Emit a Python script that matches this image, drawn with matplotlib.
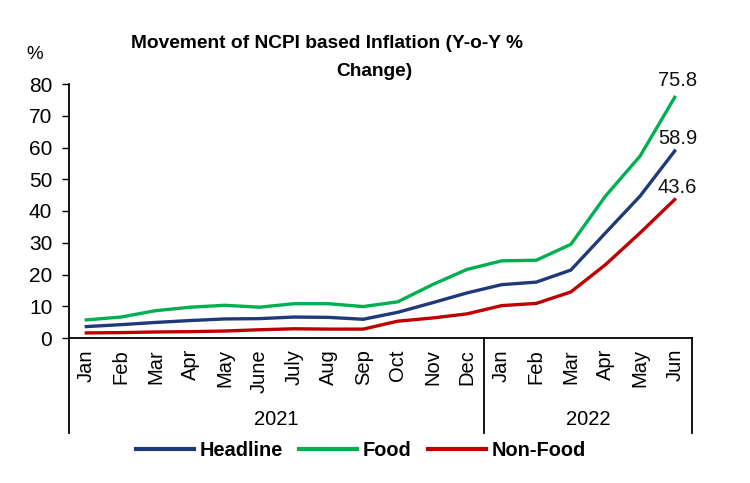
import numpy as np
from matplotlib import pyplot as plt
import matplotlib.transforms as mtrans

plt.rcParams['font.family'] = ['Liberation Sans', 'DejaVu Sans']

months = ["Jan", "Feb", "Mar", "Apr", "May", "June", "July", "Aug", "Sep", "Oct", "Nov", "Dec",
          "Jan", "Feb", "Mar", "Apr", "May", "Jun"]
years = ["2021", "2022"]
year_len = [12, 6]

headline = [3.6, 4.2, 4.9, 5.5, 6.0, 6.1, 6.6, 6.5, 5.9, 8.1, 11.1, 14.2,
            16.8, 17.6, 21.4, 33.1, 44.7, 58.9]
food = [5.7, 6.6, 8.6, 9.7, 10.3, 9.7, 10.8, 10.8, 9.9, 11.4, 16.8, 21.6,
        24.3, 24.5, 29.5, 44.7, 57.3, 75.8]
nonfood = [1.6, 1.7, 1.9, 2.0, 2.2, 2.6, 2.9, 2.8, 2.8, 5.3, 6.3, 7.6,
           10.2, 10.9, 14.5, 23.1, 33.1, 43.6]

c_head = "#1F3A78"
c_food = "#00B050"
c_non = "#C00000"

fig = plt.figure(figsize=(7.5, 4.83), dpi=100)
ax = fig.add_axes([69/750, 1-338/483, (692-69)/750, 254/483])

x = np.arange(len(months))
ax.plot(x, headline, color=c_head, lw=2.4, label="Headline")
ax.plot(x, food, color=c_food, lw=2.4, label="Food")
ax.plot(x, nonfood, color=c_non, lw=2.4, label="Non-Food")

# end value labels
for s, dy in [(food, 12), (headline, 9), (nonfood, 9)]:
    ax.annotate("%.1f" % s[-1], (x[-1], s[-1]), xytext=(2, dy), textcoords="offset points",
                ha="center", va="center", fontsize=14.5, color="#111111")

ax.set_xlim(-0.5, len(months)-0.5)
ax.set_ylim(0, 80)
ax.set_yticks(range(0, 81, 10))
ax.tick_params(axis="y", labelsize=15, length=5, width=1, pad=7)
ax.set_xticks(x)
ax.set_xticklabels(months, rotation=90, fontsize=14.5)
ax.tick_params(axis="x", length=0, pad=8)
for sp in ["top", "right"]:
    ax.spines[sp].set_visible(False)
ax.spines["left"].set_linewidth(1.3)
ax.spines["bottom"].set_linewidth(1.3)

# year group separators and labels
tr = mtrans.blended_transform_factory(ax.transData, ax.transAxes)
edges = [-0.5]
for n in year_len:
    edges.append(edges[-1] + n)
for e in edges:
    ax.plot([e, e], [0, -0.375], color="black", lw=1.3, transform=tr, clip_on=False)
for i, yr in enumerate(years):
    ax.text((edges[i] + edges[i+1]) / 2, -0.32, yr, transform=tr, ha="center", va="center",
            fontsize=14.5)

ax.text(-0.055, 1.115, "%", transform=ax.transAxes, ha="center", va="center", fontsize=13.5)

fig.text(327/750, 1-43/483, "Movement of NCPI based Inflation (Y-o-Y %", ha="center", va="center",
         fontsize=13.8, fontweight="bold")
fig.text(374/750, 1-71/483, "Change)", ha="center", va="center",
         fontsize=13.8, fontweight="bold")

leg = fig.legend(loc="center", bbox_to_anchor=(361/750, 1-450/483), ncol=3, frameon=False,
                 prop={"weight": "bold", "size": 14.4}, handlelength=2.9,
                 columnspacing=0.8, handletextpad=0.3)
for ln in leg.get_lines():
    ln.set_linewidth(3)

fig.savefig("out.png", dpi=100)
